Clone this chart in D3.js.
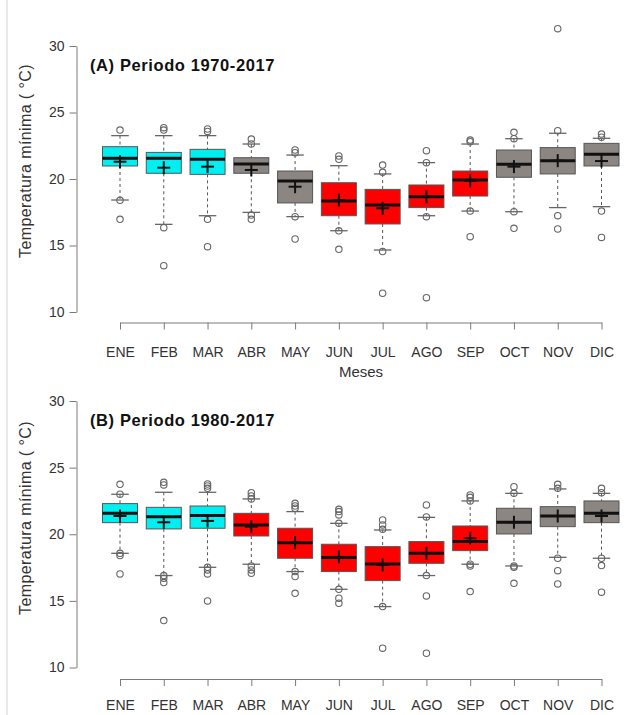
<!DOCTYPE html>
<html>
<head>
<meta charset="utf-8">
<script src="https://cdn.jsdelivr.net/npm/d3@7"></script>
<style>
  body { margin: 0; background: #fff; }
  svg { display: block; font-family: "Liberation Sans", Arial, sans-serif; }
</style>
</head>
<body>
<svg id="chart" width="625" height="715"></svg>
<script>
const months = ["ENE","FEB","MAR","ABR","MAY","JUN","JUL","AGO","SEP","OCT","NOV","DIC"];
const yTicks = [10, 15, 20, 25, 30];

// Panel A: 1970-2017
const titleA = "(A) Periodo 1970-2017";
const colorA = ["cyan","cyan","cyan","gray","gray","red","red","red","red","gray","gray","gray"];
const lowA  = [18.42, 16.59, 17.24, 17.49, 17.17, 16.11, 14.66, 17.24, 17.59, 17.54, 17.85, 17.92];
const q1A   = [20.98, 20.43, 20.35, 20.43, 18.20, 17.24, 16.62, 17.85, 18.72, 20.13, 20.38, 20.98];
const medA  = [21.56, 21.56, 21.48, 21.13, 19.85, 18.35, 18.05, 18.67, 19.92, 21.10, 21.38, 21.86];
const q3A   = [22.43, 22.00, 22.23, 21.60, 20.60, 19.72, 19.22, 19.55, 20.60, 22.18, 22.36, 22.68];
const highA = [23.26, 23.26, 23.26, 22.63, 21.80, 21.00, 20.38, 21.23, 22.63, 23.03, 23.44, 23.06];
const meanA = [21.30, 20.85, 20.93, 20.68, 19.42, 18.42, 17.80, 18.67, 19.87, 20.93, 21.38, 21.35];
const outA  = [
  [23.68, 18.40, 16.97],
  [23.86, 23.68, 16.34, 13.48],
  [23.76, 23.58, 16.97, 14.91],
  [23.00, 22.63, 17.29, 16.97],
  [22.18, 21.98, 17.17, 15.49],
  [21.73, 21.48, 16.10, 14.71],
  [21.05, 20.50, 14.55, 11.41],
  [22.13, 21.23, 17.17, 11.08],
  [22.93, 22.80, 17.59, 15.66],
  [23.51, 23.03, 17.54, 16.29],
  [31.30, 23.63, 17.24, 16.24],
  [23.38, 23.14, 17.59, 15.61]
];

// Panel B: 1980-2017
const titleB = "(B) Periodo 1980-2017";
const colorB = ["cyan","cyan","cyan","red","red","red","red","red","red","gray","gray","gray"];
const lowB  = [18.57, 16.90, 17.52, 17.75, 17.20, 15.87, 14.57, 16.90, 17.75, 17.62, 18.27, 18.20];
const q1B   = [20.87, 20.40, 20.45, 19.87, 18.20, 17.20, 16.52, 17.82, 18.77, 20.02, 20.57, 20.87];
const medB  = [21.57, 21.32, 21.40, 20.70, 19.37, 18.25, 17.77, 18.57, 19.45, 20.90, 21.37, 21.57];
const q3B   = [22.30, 22.02, 22.12, 21.57, 20.45, 19.25, 19.07, 19.45, 20.62, 21.95, 22.07, 22.50];
const highB = [23.00, 23.15, 23.15, 22.65, 21.70, 20.82, 20.32, 21.27, 22.50, 23.07, 23.40, 23.07];
const meanB = [21.37, 20.90, 21.00, 20.57, 19.37, 18.30, 17.70, 18.57, 19.70, 20.90, 21.37, 21.37];
const outB  = [
  [23.75, 23.00, 18.57, 18.40, 17.02],
  [23.90, 23.70, 16.90, 16.70, 16.37, 13.52],
  [23.77, 23.62, 23.45, 17.52, 17.32, 17.02, 15.00],
  [23.12, 22.87, 22.65, 17.62, 17.32, 17.07],
  [22.32, 22.12, 21.95, 17.20, 16.82, 15.57],
  [21.87, 21.70, 21.45, 20.82, 15.87, 15.20, 14.82],
  [21.07, 20.70, 20.37, 14.57, 11.45],
  [22.20, 21.30, 16.90, 15.37, 11.07],
  [22.95, 22.77, 22.50, 17.75, 17.62, 15.70],
  [23.57, 23.07, 17.62, 17.52, 16.32],
  [23.75, 23.45, 18.20, 17.27, 16.27],
  [23.45, 23.12, 18.20, 17.65, 15.65]
];

const xAxisTitle = "Meses";
const yAxisTitle = "Temperatura mínima ( °C)";

const fillMap = { cyan: "#00f0f2", gray: "#8c8683", red: "#ff0000" };

const svg = d3.select("#chart");

// faint left frame line
svg.append("line").attr("x1", 7).attr("x2", 7).attr("y1", 0).attr("y2", 715)
  .attr("stroke", "#e2e2e2").attr("stroke-width", 1.5);

const x = d3.scalePoint().domain(months).range([120, 601.5]);
const boxW = 35;
const capW = 17.5;

function panel(cfg) {
  const y = d3.scaleLinear().domain([10, 30]).range([cfg.yBottom, cfg.yTop]);
  const g = svg.append("g");

  // y axis
  const ya = g.append("g").attr("transform", "translate(76.5,0)")
    .call(d3.axisLeft(y).tickValues(yTicks).tickSize(7).tickSizeOuter(0).tickPadding(5));
  ya.select(".domain").attr("stroke", "#7a7a7a");
  ya.selectAll(".tick line").attr("stroke", "#7a7a7a");
  ya.selectAll(".tick text").attr("font-size", 14).attr("fill", "#333")
    .attr("font-family", "Liberation Sans, Arial, sans-serif");

  // x axis
  const xa = g.append("g").attr("transform", `translate(0,${cfg.xAxisY})`)
    .call(d3.axisBottom(x).tickSize(7).tickSizeOuter(0).tickPadding(cfg.xPad));
  xa.select(".domain").attr("stroke", "#7a7a7a");
  xa.selectAll(".tick line").attr("stroke", "#7a7a7a");
  xa.selectAll(".tick text").attr("font-size", 14).attr("fill", "#333")
    .attr("font-family", "Liberation Sans, Arial, sans-serif");

  // y title
  g.append("text")
    .attr("transform", `translate(31,${cfg.yTitleC}) rotate(-90)`)
    .attr("text-anchor", "middle").attr("font-size", 16).attr("letter-spacing", 0.4)
    .attr("fill", "#333")
    .text(yAxisTitle);

  // panel title
  g.append("text").attr("x", 90).attr("y", cfg.titleY)
    .attr("font-size", 16.5).attr("font-weight", "bold").attr("letter-spacing", 0.6)
    .attr("fill", "#111").text(cfg.title);

  if (cfg.showXTitle) {
    g.append("text").attr("x", 361).attr("y", cfg.xAxisY + 54)
      .attr("text-anchor", "middle").attr("font-size", 15).attr("fill", "#333")
      .text(xAxisTitle);
  }

  months.forEach((m, i) => {
    const cx = x(m);
    const bg = g.append("g");
    // whiskers (dashed)
    bg.append("line").attr("x1", cx).attr("x2", cx)
      .attr("y1", y(cfg.high[i])).attr("y2", y(cfg.q3[i]))
      .attr("stroke", "#555").attr("stroke-dasharray", "3,3");
    bg.append("line").attr("x1", cx).attr("x2", cx)
      .attr("y1", y(cfg.q1[i])).attr("y2", y(cfg.low[i]))
      .attr("stroke", "#555").attr("stroke-dasharray", "3,3");
    // caps
    [cfg.high[i], cfg.low[i]].forEach(v => {
      bg.append("line").attr("x1", cx - capW / 2).attr("x2", cx + capW / 2)
        .attr("y1", y(v)).attr("y2", y(v))
        .attr("stroke", "#666").attr("stroke-width", 1.3);
    });
    // box
    bg.append("rect").attr("x", cx - boxW / 2).attr("width", boxW)
      .attr("y", y(cfg.q3[i])).attr("height", y(cfg.q1[i]) - y(cfg.q3[i]))
      .attr("fill", fillMap[cfg.color[i]]).attr("stroke", "#555").attr("stroke-width", 1);
    // median
    bg.append("line").attr("x1", cx - boxW / 2).attr("x2", cx + boxW / 2)
      .attr("y1", y(cfg.med[i])).attr("y2", y(cfg.med[i]))
      .attr("stroke", "#111").attr("stroke-width", 3);
    // mean cross
    const my = y(cfg.mean[i]);
    bg.append("line").attr("x1", cx - 6.5).attr("x2", cx + 6.5).attr("y1", my).attr("y2", my)
      .attr("stroke", "#111").attr("stroke-width", 2);
    bg.append("line").attr("x1", cx).attr("x2", cx).attr("y1", my - 6.5).attr("y2", my + 6.5)
      .attr("stroke", "#111").attr("stroke-width", 2);
    // outliers
    cfg.out[i].forEach(v => {
      bg.append("circle").attr("cx", cx).attr("cy", y(v)).attr("r", 3.2)
        .attr("fill", "none").attr("stroke", "#666").attr("stroke-width", 1.1);
    });
  });
}

panel({ title: titleA, yTop: 46, yBottom: 312, xAxisY: 322.5, xPad: 18, titleY: 71, yTitleC: 161, showXTitle: true,
  color: colorA, low: lowA, q1: q1A, med: medA, q3: q3A, high: highA, mean: meanA, out: outA });
panel({ title: titleB, yTop: 401, yBottom: 667.5, xAxisY: 679, xPad: 14, titleY: 426, yTitleC: 518, showXTitle: false,
  color: colorB, low: lowB, q1: q1B, med: medB, q3: q3B, high: highB, mean: meanB, out: outB });
</script>
</body>
</html>
